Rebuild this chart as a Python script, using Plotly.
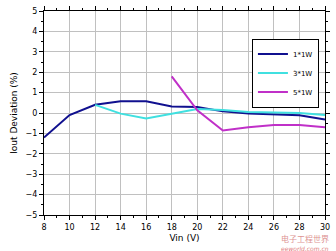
import plotly.graph_objects as go

vin = [8, 10, 12, 14, 16, 18, 20, 22, 24, 26, 28, 30]
s1_x = vin
s1_y = [-1.2, -0.1, 0.4, 0.57, 0.57, 0.32, 0.29, 0.08, -0.03, -0.08, -0.11, -0.32]
s3_x = [12, 14, 16, 18, 20, 22, 24, 26, 28, 30]
s3_y = [0.4, -0.03, -0.27, -0.03, 0.2, 0.15, 0.05, 0.02, 0.0, -0.1]
s5_x = [18, 20, 22, 24, 26, 28, 30]
s5_y = [1.8, 0.13, -0.86, -0.7, -0.59, -0.59, -0.7]
names = ["1*1W", "3*1W", "5*1W"]
colors = ["#10108f", "#40e0e0", "#c030c8"]

fig = go.Figure()
for xs, ys, n, c in zip([s1_x, s3_x, s5_x], [s1_y, s3_y, s5_y], names, colors):
    fig.add_trace(go.Scatter(x=xs, y=ys, mode="lines", name=n,
                             line=dict(color=c, width=2)))

axis_common = dict(showline=True, linecolor="black", linewidth=1, mirror="ticks",
                   ticks="outside", ticklen=4, tickcolor="black", showgrid=True,
                   gridcolor="#c0c0c0", gridwidth=1, zeroline=False,
                   tickfont=dict(family="DejaVu Sans", size=8, color="black"))

fig.update_xaxes(range=[8, 30], dtick=2, tick0=8,
                 minor=dict(dtick=1, ticks="outside", ticklen=2, tickcolor="black", showgrid=False),
                 title=dict(text="Vin (V)", font=dict(family="DejaVu Sans", size=9, color="black"), standoff=4),
                 **axis_common)
fig.update_yaxes(range=[-5, 5], dtick=1, tick0=0,
                 minor=dict(dtick=0.5, ticks="outside", ticklen=2, tickcolor="black", showgrid=False),
                 title=dict(text="Iout Deviation (%)", font=dict(family="DejaVu Sans", size=9, color="black"), standoff=6),
                 **axis_common)

fig.update_layout(
    width=336, height=251,
    margin=dict(l=44, r=8, t=6, b=36),
    paper_bgcolor="white", plot_bgcolor="white",
    showlegend=True,
    legend=dict(x=0.74, y=0.865, xanchor="left", yanchor="top",
                bgcolor="white", bordercolor="black", borderwidth=1,
                font=dict(family="DejaVu Sans", size=7, color="black"),
                itemwidth=30, tracegroupgap=0),
)

fig.add_annotation(text="电子工程世界", xref="paper", yref="paper", x=1.02, y=-0.08,
                   xanchor="right", yanchor="top", showarrow=False,
                   font=dict(family="Noto Sans CJK SC", size=8, color="#c84a4a"), opacity=0.6)
fig.add_annotation(text="<i>eeworld.com.cn</i>", xref="paper", yref="paper", x=1.02, y=-0.135,
                   xanchor="right", yanchor="top", showarrow=False,
                   font=dict(family="DejaVu Sans", size=6, color="#d04040"), opacity=0.7)

fig.write_html("out.html")
